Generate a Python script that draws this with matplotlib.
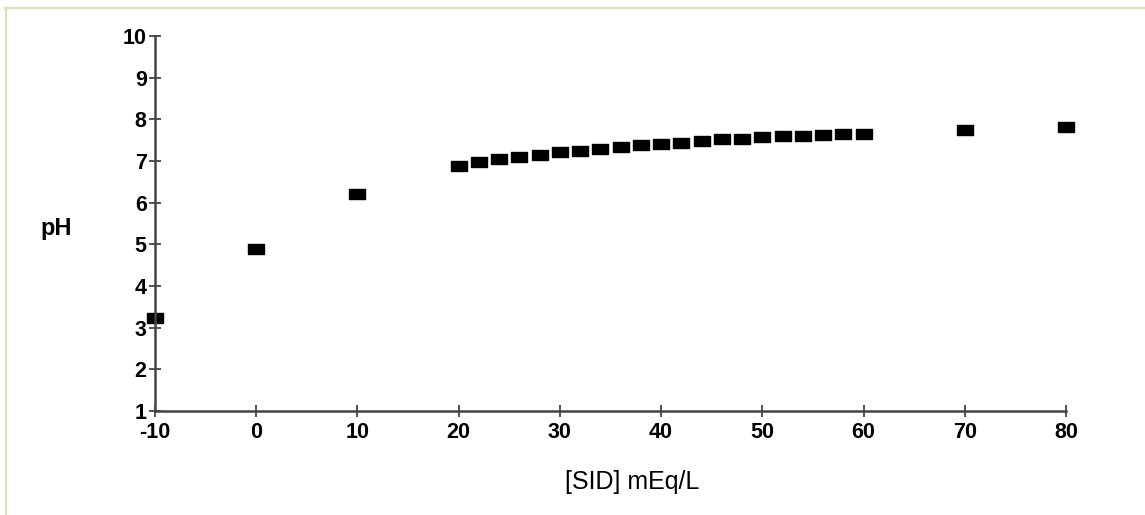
import matplotlib.pyplot as plt
from matplotlib.path import Path
from matplotlib.lines import Line2D

# data
sid = [-10, 0, 10, 20, 22, 24, 26, 28, 30, 32, 34, 36, 38, 40, 42, 44, 46, 48,
       50, 52, 54, 56, 58, 60, 70, 80]
ph = [3.23, 4.88, 6.22, 6.88, 6.98, 7.04, 7.10, 7.14, 7.22, 7.25, 7.28, 7.33,
      7.38, 7.40, 7.44, 7.49, 7.53, 7.54, 7.58, 7.60, 7.60, 7.63, 7.65, 7.65,
      7.74, 7.81]
x_ticks = [-10, 0, 10, 20, 30, 40, 50, 60, 70, 80]
y_ticks = [1, 2, 3, 4, 5, 6, 7, 8, 9, 10]

plt.rcParams['font.family'] = ['Liberation Sans', 'DejaVu Sans']
plt.rcParams['axes.unicode_minus'] = False

W, H = 1145, 515
fig = plt.figure(figsize=(W / 100, H / 100), dpi=100)

# light green frame (top + left only)
fig.add_artist(Line2D([5 / W, 1], [1 - 7.5 / H, 1 - 7.5 / H], color='#d6e3bb', lw=1.6))
fig.add_artist(Line2D([6 / W, 6 / W], [0, 1 - 7.5 / H], color='#d6e3bb', lw=1.6))

ax = fig.add_axes([155 / W, 1 - 411 / H, (1066 - 155) / W, (411 - 36) / H])

# wide rectangle marker
rect = Path([(-0.5, -0.3), (0.5, -0.3), (0.5, 0.3), (-0.5, 0.3), (-0.5, -0.3)],
            [Path.MOVETO, Path.LINETO, Path.LINETO, Path.LINETO, Path.CLOSEPOLY])
ax.plot(sid, ph, linestyle='none', marker=rect, markersize=11, color='black',
        clip_on=False)

ax.set_xlim(-10, 80)
ax.set_ylim(1, 10)
ax.set_xticks(x_ticks)
ax.set_yticks(y_ticks)

for s in ['top', 'right']:
    ax.spines[s].set_visible(False)
for s in ['left', 'bottom']:
    ax.spines[s].set_color('#444444')
    ax.spines[s].set_linewidth(1.8)

ax.tick_params(direction='inout', length=8, width=1.3, color='#444444',
               labelsize=15.5)
ax.tick_params(axis='x', pad=4)
ax.tick_params(axis='y', pad=2)
for lbl in ax.get_xticklabels() + ax.get_yticklabels():
    lbl.set_fontweight('bold')

fig.text(40 / W, 1 - 228 / H, 'pH', fontsize=17, fontweight='bold',
         va='center', ha='left')
fig.text(632 / W, 1 - 482 / H, '[SID] mEq/L', fontsize=18, va='center',
         ha='center')

plt.savefig('out.png', dpi=100)
